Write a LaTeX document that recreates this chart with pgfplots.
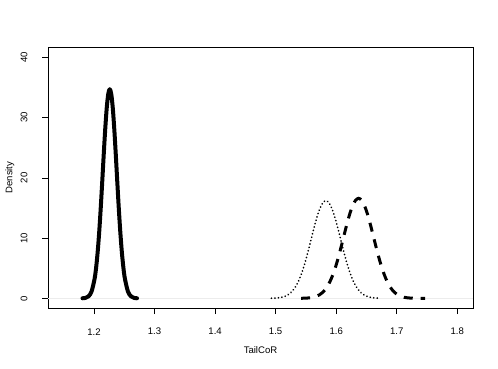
\documentclass[border=0pt]{standalone}
\usepackage{pgfplots}
\pgfplotsset{compat=1.18}
\usepackage{fontspec}
\setmainfont{Liberation Sans}
\begin{document}
\begin{tikzpicture}[x=1bp,y=1bp]
\path[use as bounding box] (0,0) rectangle (498,368);
\begin{axis}[
  at={(48bp,60bp)}, anchor=south west,
  scale only axis, width=425bp, height=261bp,
  xmin=1.124, xmax=1.826, ymin=-1.6, ymax=41.7,
  xtick={1.2,1.3,1.4,1.5,1.6,1.7,1.8},
  ytick={0,10,20,30,40},
  tick align=outside, tick pos=left,
  major tick length=6bp,
  every tick/.style={black, line width=0.6bp},
  axis line style={line width=0.7bp},
  /pgf/number format/assume math mode=true,
  xticklabel={\pgfmathprintnumber[fixed,precision=1,fixed zerofill]{\tick}},
  yticklabel={\pgfmathprintnumber[fixed,precision=0]{\tick}},
  tick label style={font=\fontsize{9.6}{11}\selectfont},
  xticklabel style={anchor=center, yshift=-17.7bp},
  yticklabel style={anchor=center, xshift=-18bp, rotate=90},
  label style={font=\fontsize{9.6}{11}\selectfont},
  xlabel={TailCoR}, ylabel={Density},
  xlabel style={at={(axis description cs:0.5,-0.161)}, anchor=center},
  ylabel style={at={(axis description cs:-0.0894,0.5)}, anchor=center},
  clip=true,
]
% zero line
\addplot[gray!15, line width=0.5bp] coordinates {(1.124,0) (1.826,0)};
% solid curve
\addplot[black, line width=4bp, line join=round, line cap=round, smooth] coordinates {
(1.181,0.016) (1.186,0.082) (1.191,0.338) (1.196,1.155) (1.201,3.27) (1.2035,5.12)
(1.206,7.65) (1.2085,10.90) (1.211,14.82) (1.2135,19.22) (1.216,23.78) (1.2185,28.05)
(1.221,31.57) (1.2235,33.89) (1.226,34.7) (1.2285,33.89) (1.231,31.57) (1.2335,28.05)
(1.236,23.78) (1.2385,19.22) (1.241,14.82) (1.2435,10.90) (1.246,7.65) (1.2485,5.12)
(1.251,3.27) (1.256,1.155) (1.261,0.338) (1.266,0.082) (1.271,0.016)
};
% dotted curve
\addplot[black, line width=1.8bp, line cap=round, dash pattern=on 0.1bp off 3.4bp, smooth] coordinates {
(1.493,0.017) (1.498,0.036) (1.503,0.072) (1.508,0.138) (1.513,0.256) (1.518,0.453)
(1.523,0.769) (1.528,1.25) (1.533,1.95) (1.538,2.92) (1.543,4.18) (1.548,5.74)
(1.553,7.56) (1.558,9.54) (1.563,11.55) (1.568,13.39) (1.573,14.88) (1.578,15.86)
(1.583,16.2) (1.588,15.86) (1.593,14.88) (1.598,13.39) (1.603,11.55) (1.608,9.54)
(1.613,7.56) (1.618,5.74) (1.623,4.18) (1.628,2.92) (1.633,1.95) (1.638,1.25)
(1.643,0.769) (1.648,0.453) (1.653,0.256) (1.658,0.138) (1.663,0.072) (1.668,0.036) (1.673,0.017)
};
% dashed curve
\addplot[black, line width=3bp, dash pattern=on 9bp off 8bp, smooth] coordinates {
(1.542,0.012) (1.547,0.025) (1.552,0.051) (1.557,0.099) (1.562,0.184)
(1.567,0.329) (1.572,0.565) (1.577,0.932) (1.582,1.48) (1.587,2.25) (1.592,3.29)
(1.597,4.61) (1.602,6.23) (1.607,8.08) (1.612,10.07) (1.617,12.05) (1.622,13.87)
(1.627,15.32) (1.632,16.27) (1.637,16.6) (1.642,16.27) (1.647,15.32) (1.652,13.87)
(1.657,12.05) (1.662,10.07) (1.667,8.08) (1.672,6.23) (1.677,4.61) (1.682,3.29)
(1.687,2.25) (1.692,1.48) (1.697,0.932) (1.702,0.565) (1.707,0.329) (1.712,0.184)
(1.717,0.099) (1.722,0.051) (1.727,0.025) (1.732,0.012) (1.737,0.006) (1.742,0.003) (1.747,0.001)
};
\end{axis}
\end{tikzpicture}
\end{document}
